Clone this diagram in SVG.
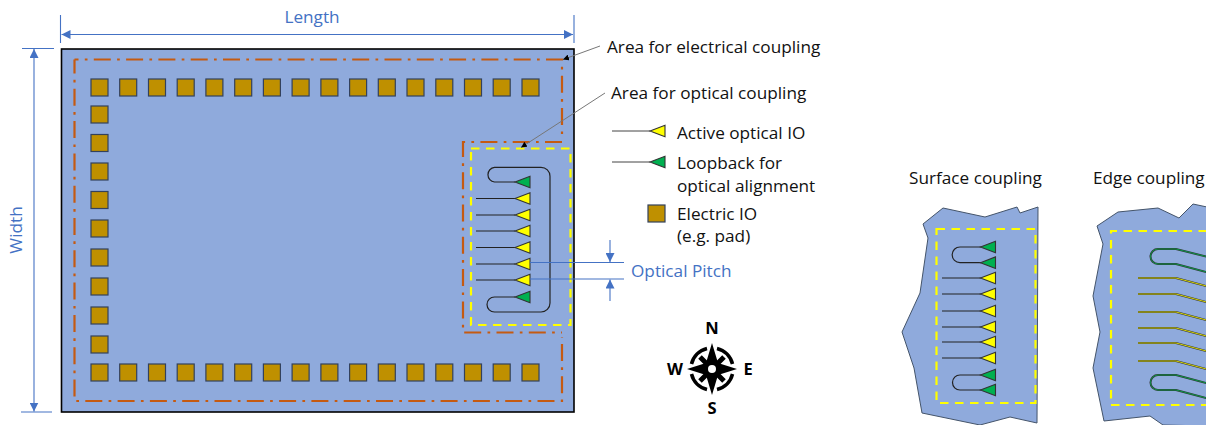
<svg xmlns="http://www.w3.org/2000/svg" xmlns:xlink="http://www.w3.org/1999/xlink" width="1206" height="425" viewBox="0 0 1206 425">
<style>
text{font-family:"Open Sans","Noto Sans","Liberation Sans",sans-serif;font-size:17.2px;fill:#111}
.blue{fill:#4472C4}
.chip{fill:#8FAADC;stroke:#000;stroke-width:1.6}
.part{fill:#8FAADC;stroke:#44546A;stroke-width:1}
.pad{fill:#BF9000;stroke:#33415C;stroke-width:1.2}
.y{fill:#FFFF00;stroke:#333;stroke-width:1.1}
.g{fill:#00B050;stroke:#333;stroke-width:1.1}
.w{fill:none;stroke:#222;stroke-width:1.2}
.dim{fill:none;stroke:#4472C4;stroke-width:1.1}
.lead{fill:none;stroke:#777;stroke-width:1}
.or{fill:none;stroke:#C55A11;stroke-width:2.2;stroke-dasharray:17 6.3 2.7 6.3}
.ye{fill:none;stroke:#FFFF00;stroke-width:2.2;stroke-dasharray:8.5 6.5}
.compass{font-weight:700;font-size:16.500px;text-anchor:middle;fill:#000}
</style>
<defs>
<marker id="ab" viewBox="0 0 10 10" refX="10" refY="5" markerWidth="9" markerHeight="9" markerUnits="userSpaceOnUse" orient="auto-start-reverse"><path d="M0 0L10 5L0 10Z" fill="#4472C4"/></marker>
<marker id="ak" viewBox="0 0 10 10" refX="10" refY="5" markerWidth="6" markerHeight="6" markerUnits="userSpaceOnUse" orient="auto"><path d="M0 0L10 5L0 10Z" fill="#000"/></marker>
<polygon id="ty" class="y" points="0,0 15,-5.8 15,5.8"/>
<polygon id="tg" class="g" points="0,0 15,-5.8 15,5.8"/>
<rect id="pd" class="pad" width="17" height="17"/>
</defs>

<g id="chip">
<rect class="chip" x="61.5" y="49" width="512.5" height="363"/>
</g>

<g id="electrical-area">
<path class="or" stroke-dashoffset="13" d="M74.500 59.500H562V138"/>
<path class="or" stroke-dashoffset="3" d="M74.500 59.500V401H562V337"/>
</g>

<g id="pads">
<use xlink:href="#pd" x="91" y="79"/><use xlink:href="#pd" x="119.7" y="79"/><use xlink:href="#pd" x="148.5" y="79"/><use xlink:href="#pd" x="177.2" y="79"/><use xlink:href="#pd" x="205.9" y="79"/><use xlink:href="#pd" x="234.7" y="79"/><use xlink:href="#pd" x="263.4" y="79"/><use xlink:href="#pd" x="292.1" y="79"/><use xlink:href="#pd" x="320.9" y="79"/><use xlink:href="#pd" x="349.6" y="79"/><use xlink:href="#pd" x="378.3" y="79"/><use xlink:href="#pd" x="407" y="79"/><use xlink:href="#pd" x="435.8" y="79"/><use xlink:href="#pd" x="464.5" y="79"/><use xlink:href="#pd" x="493.2" y="79"/><use xlink:href="#pd" x="522" y="79"/>
<use xlink:href="#pd" x="91" y="106"/><use xlink:href="#pd" x="91" y="134.500"/><use xlink:href="#pd" x="91" y="163"/><use xlink:href="#pd" x="91" y="191.500"/><use xlink:href="#pd" x="91" y="220"/><use xlink:href="#pd" x="91" y="249"/><use xlink:href="#pd" x="91" y="278"/><use xlink:href="#pd" x="91" y="307"/><use xlink:href="#pd" x="91" y="336"/>
<use xlink:href="#pd" x="91" y="364"/><use xlink:href="#pd" x="119.7" y="364"/><use xlink:href="#pd" x="148.5" y="364"/><use xlink:href="#pd" x="177.2" y="364"/><use xlink:href="#pd" x="205.9" y="364"/><use xlink:href="#pd" x="234.7" y="364"/><use xlink:href="#pd" x="263.4" y="364"/><use xlink:href="#pd" x="292.1" y="364"/><use xlink:href="#pd" x="320.9" y="364"/><use xlink:href="#pd" x="349.6" y="364"/><use xlink:href="#pd" x="378.3" y="364"/><use xlink:href="#pd" x="407" y="364"/><use xlink:href="#pd" x="435.8" y="364"/><use xlink:href="#pd" x="464.5" y="364"/><use xlink:href="#pd" x="493.2" y="364"/><use xlink:href="#pd" x="522" y="364"/>
</g>

<g id="optical-area">
<path class="or" d="M562 142H463V332.500H562"/>
<rect class="ye" x="471" y="148.500" width="99.500" height="176.500"/>
<path class="w" d="M515 182H494.500A7.400 7.400 0 0 1 494.500 167.300H541A9 9 0 0 1 550 176.300V303A9 9 0 0 1 541 312H494.500A7.500 7.500 0 0 1 494.500 297H515"/>
<path class="w" d="M476 198.500H515M476 215H515M476 231H515M476 247.500H515M476 264H515M476 280H515"/>
<use xlink:href="#tg" x="515" y="182"/><use xlink:href="#ty" x="515" y="198.500"/><use xlink:href="#ty" x="515" y="215"/><use xlink:href="#ty" x="515" y="231"/><use xlink:href="#ty" x="515" y="247.500"/><use xlink:href="#ty" x="515" y="264"/><use xlink:href="#ty" x="515" y="280"/><use xlink:href="#tg" x="515" y="297"/>
</g>

<g id="connectors">
<path class="dim" d="M60.500 15V43M574 15V43M22 48.500H54M21 412H52M530 262.500H624M530 279H624"/>
<path class="dim" d="M61.500 34.500H573" marker-start="url(#ab)" marker-end="url(#ab)"/>
<path class="dim" d="M34 49V411.500" marker-start="url(#ab)" marker-end="url(#ab)"/>
<path class="dim" d="M610 240V262" marker-end="url(#ab)"/>
<path class="dim" d="M610 301V279.500" marker-end="url(#ab)"/>
<path class="lead" d="M600 46L563 59.500" marker-end="url(#ak)"/>
<path class="lead" d="M605 93L521 147.500" marker-end="url(#ak)"/>
</g>

<g id="labels">
<text class="blue" x="312" y="22.500" text-anchor="middle">Length</text>
<text class="blue" transform="translate(22,230) rotate(-90)" text-anchor="middle">Width</text>
<text class="blue" x="631" y="277">Optical Pitch</text>
<text x="607" y="53">Area for electrical coupling</text>
<text x="611" y="99">Area for optical coupling</text>
</g>

<g id="legend">
<path class="lead" style="stroke:#444" d="M612 131H650M612 162H650"/>
<use xlink:href="#ty" x="650" y="131"/>
<use xlink:href="#tg" x="650" y="162"/>
<rect class="pad" x="648" y="205" width="17" height="17"/>
<text x="677" y="138.500">Active optical IO</text>
<text x="677" y="169">Loopback for</text>
<text x="677" y="191.500">optical alignment</text>
<text x="677" y="220">Electric IO</text>
<text x="677" y="242">(e.g. pad)</text>
</g>

<g id="compass">
<text class="compass" x="712" y="333.500">N</text>
<text class="compass" x="675" y="375">W</text>
<text class="compass" x="748" y="375">E</text>
<text class="compass" x="712" y="414">S</text>
<path d="M712 343L718 363L737 369L718 375L712 395L706 375L687 369L706 363Z" fill="#000"/>
<path d="M712 369L724 357M712 369L700 357M712 369L724 381M712 369L700 381" stroke="#000" stroke-width="5"/>
<g fill="none" stroke="#000" stroke-width="3.500">
<path d="M717 348.500A21 21 0 0 1 732.500 364"/>
<path d="M732.500 374A21 21 0 0 1 717 389.500"/>
<path d="M707 389.500A21 21 0 0 1 691.500 374"/>
<path d="M691.500 364A21 21 0 0 1 707 348.500"/>
</g>
<circle cx="712" cy="369" r="4" fill="#fff"/>
</g>

<g id="surface-coupling">
<text x="909" y="184">Surface coupling</text>
<polygon class="part" points="943,208 985,217 1017,207 1020,213 1038,207 1037,423 1010,417 980,425 922,413 914,368 902,332 920,293 928,238 923,224"/>
<rect class="ye" x="936.500" y="229" width="99" height="174"/>
<path class="w" d="M981 247H960A7.800 7.800 0 0 0 960 262.700H981M981 375H960A7.500 7.500 0 0 0 960 390H981M942 278H981M942 294H981M942 311H981M942 327H981M942 342H981M942 358H981"/>
<use xlink:href="#tg" x="980.500" y="247"/><use xlink:href="#tg" x="980.500" y="262.700"/><use xlink:href="#ty" x="980.500" y="278"/><use xlink:href="#ty" x="980.500" y="294"/><use xlink:href="#ty" x="980.500" y="311"/><use xlink:href="#ty" x="980.500" y="327"/><use xlink:href="#ty" x="980.500" y="342"/><use xlink:href="#ty" x="980.500" y="358"/><use xlink:href="#tg" x="980.500" y="375"/><use xlink:href="#tg" x="980.500" y="390"/>
</g>

<g id="edge-coupling">
<text x="1093" y="184">Edge coupling</text>
<polygon class="part" points="1097,226 1118,212 1158,208 1179,218 1193,204 1207,207 1207,426 1163,425 1150,416 1104,421 1093,368 1100,332 1093,296 1103,244"/>
<path class="ye" d="M1207 231H1111V405H1207"/>
<g fill="none" stroke="#333" stroke-width="2">
<path d="M1210 257.500L1176 249H1158A7.500 7.500 0 0 0 1158 264H1176L1210 273"/>
<path d="M1210 384L1176 375H1158A7.500 7.500 0 0 0 1158 390H1176L1210 399"/>
<path d="M1138 278H1176L1210 287M1138 294H1176L1210 303M1138 312H1176L1210 321M1138 328H1176L1210 337M1138 343H1176L1210 352M1138 361H1176L1210 370"/>
</g>
<g fill="none" stroke="#00B050" stroke-width=".8">
<path d="M1210 257.500L1176 249H1158A7.500 7.500 0 0 0 1158 264H1176L1210 273"/>
<path d="M1210 384L1176 375H1158A7.500 7.500 0 0 0 1158 390H1176L1210 399"/>
</g>
<path fill="none" stroke="#FFFF00" stroke-width=".8" d="M1138 278H1176L1210 287M1138 294H1176L1210 303M1138 312H1176L1210 321M1138 328H1176L1210 337M1138 343H1176L1210 352M1138 361H1176L1210 370"/>
</g>
</svg>
